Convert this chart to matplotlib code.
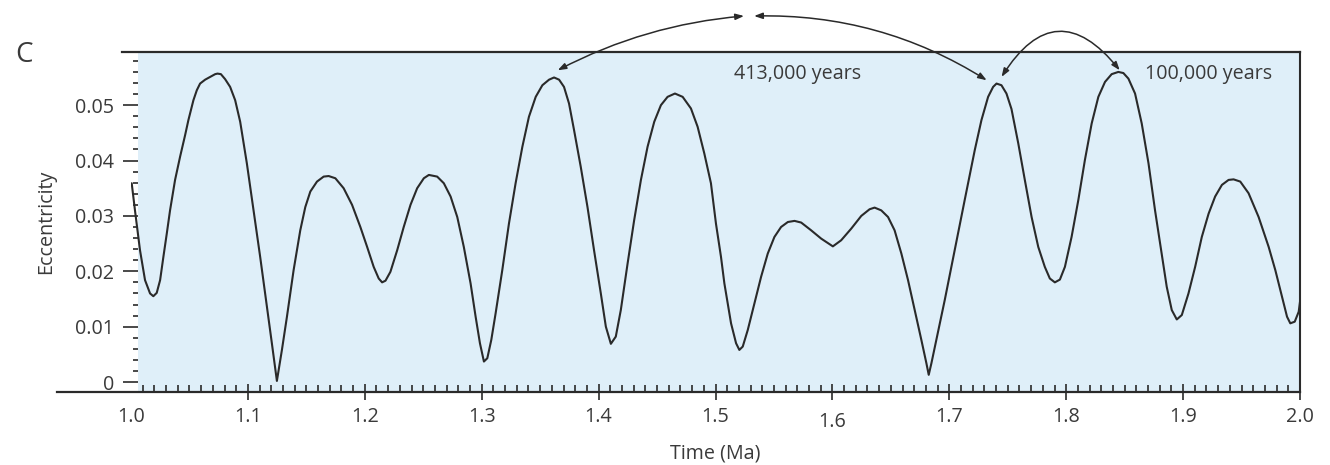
import matplotlib.pyplot as plt
from matplotlib.ticker import MultipleLocator
from matplotlib.transforms import ScaledTranslation

plt.rcParams['font.family'] = ['Open Sans', 'DejaVu Sans']

# orbital eccentricity, 1.0 - 2.0 Ma
time_ma = [
    1.0006, 1.0034, 1.0077, 1.0120, 1.0163, 1.0191, 1.0220, 1.0249, 1.0277, 1.0306,
    1.0334, 1.0377, 1.0420, 1.0463, 1.0491, 1.0534, 1.0563, 1.0591, 1.0634, 1.0677,
    1.0720, 1.0740, 1.0769, 1.0805, 1.0848, 1.0891, 1.0934, 1.0991, 1.1048, 1.1105,
    1.1163, 1.1205, 1.1248, 1.1291, 1.1334, 1.1391, 1.1448, 1.1491, 1.1534, 1.1591,
    1.1648, 1.1691, 1.1748, 1.1819, 1.1891, 1.1962, 1.2020, 1.2076, 1.2119, 1.2148,
    1.2177, 1.2219, 1.2277, 1.2333, 1.2391, 1.2448, 1.2505, 1.2548, 1.2619, 1.2676,
    1.2734, 1.2791, 1.2847, 1.2905, 1.2948, 1.2985, 1.3019, 1.3048, 1.3082, 1.3119,
    1.3176, 1.3233, 1.3290, 1.3348, 1.3404, 1.3462, 1.3519, 1.3576, 1.3619, 1.3662,
    1.3704, 1.3747, 1.3790, 1.3847, 1.3905, 1.3961, 1.4019, 1.4062, 1.4105, 1.4147,
    1.4190, 1.4248, 1.4304, 1.4362, 1.4419, 1.4476, 1.4533, 1.4590, 1.4653, 1.4719,
    1.4790, 1.4847, 1.4904, 1.4961, 1.5004, 1.5047, 1.5076, 1.5133, 1.5176, 1.5204,
    1.5233, 1.5276, 1.5333, 1.5390, 1.5447, 1.5504, 1.5561, 1.5619, 1.5676, 1.5733,
    1.5818, 1.5904, 1.6004, 1.6075, 1.6161, 1.6247, 1.6318, 1.6361, 1.6418, 1.6476,
    1.6532, 1.6590, 1.6647, 1.6704, 1.6761, 1.6804, 1.6824, 1.6847, 1.6889, 1.6961,
    1.7046, 1.7132, 1.7218, 1.7275, 1.7332, 1.7375, 1.7404, 1.7446, 1.7489, 1.7532,
    1.7590, 1.7646, 1.7704, 1.7761, 1.7817, 1.7860, 1.7903, 1.7946, 1.7989, 1.8046,
    1.8104, 1.8160, 1.8218, 1.8275, 1.8332, 1.8389, 1.8446, 1.8489, 1.8532, 1.8589,
    1.8646, 1.8704, 1.8760, 1.8817, 1.8860, 1.8903, 1.8946, 1.8989, 1.9046, 1.9103,
    1.9160, 1.9218, 1.9274, 1.9332, 1.9389, 1.9432, 1.9489, 1.9560, 1.9646, 1.9732,
    1.9789, 1.9846, 1.9889, 1.9917, 1.9955, 1.9989, 2.0000,
]
eccentricity = [
    0.0359, 0.0310, 0.0238, 0.0184, 0.0160, 0.0155, 0.0161, 0.0184, 0.0226, 0.0268,
    0.0310, 0.0365, 0.0407, 0.0446, 0.0473, 0.0509, 0.0527, 0.0539, 0.0546, 0.0551,
    0.0556, 0.0557, 0.0556, 0.0547, 0.0533, 0.0509, 0.0470, 0.0395, 0.0310, 0.0226,
    0.0136, 0.0070, 0.0002, 0.0058, 0.0118, 0.0202, 0.0274, 0.0316, 0.0344, 0.0362,
    0.0371, 0.0372, 0.0368, 0.0350, 0.0320, 0.0280, 0.0244, 0.0208, 0.0187, 0.0180,
    0.0183, 0.0199, 0.0238, 0.0280, 0.0320, 0.0350, 0.0368, 0.0374, 0.0371, 0.0359,
    0.0335, 0.0298, 0.0244, 0.0178, 0.0118, 0.0070, 0.0037, 0.0043, 0.0076, 0.0124,
    0.0202, 0.0286, 0.0359, 0.0425, 0.0479, 0.0515, 0.0536, 0.0546, 0.0550, 0.0546,
    0.0533, 0.0503, 0.0455, 0.0389, 0.0316, 0.0238, 0.0160, 0.0100, 0.0069, 0.0082,
    0.0130, 0.0214, 0.0292, 0.0365, 0.0425, 0.0470, 0.0500, 0.0515, 0.0521, 0.0515,
    0.0494, 0.0461, 0.0413, 0.0359, 0.0286, 0.0226, 0.0178, 0.0106, 0.0070, 0.0058,
    0.0064, 0.0094, 0.0142, 0.0190, 0.0232, 0.0262, 0.0280, 0.0289, 0.0291, 0.0288,
    0.0274, 0.0259, 0.0245, 0.0256, 0.0277, 0.0300, 0.0312, 0.0315, 0.0310, 0.0298,
    0.0274, 0.0232, 0.0184, 0.0130, 0.0076, 0.0034, 0.0013, 0.0034, 0.0076, 0.0148,
    0.0238, 0.0329, 0.0419, 0.0473, 0.0515, 0.0533, 0.0539, 0.0536, 0.0521, 0.0493,
    0.0431, 0.0365, 0.0298, 0.0244, 0.0208, 0.0187, 0.0180, 0.0185, 0.0208, 0.0262,
    0.0329, 0.0401, 0.0467, 0.0515, 0.0542, 0.0556, 0.0560, 0.0558, 0.0548, 0.0521,
    0.0467, 0.0395, 0.0310, 0.0232, 0.0172, 0.0130, 0.0113, 0.0121, 0.0160, 0.0208,
    0.0262, 0.0304, 0.0335, 0.0356, 0.0365, 0.0366, 0.0362, 0.0341, 0.0298, 0.0244,
    0.0202, 0.0154, 0.0118, 0.0106, 0.0109, 0.0127, 0.0145,
]

x_ticks = [1.0, 1.1, 1.2, 1.3, 1.4, 1.5, 1.6, 1.7, 1.8, 1.9, 2.0]
x_tick_labels = ['1.0', '1.1', '1.2', '1.3', '1.4', '1.5', '1.6', '1.7', '1.8', '1.9', '2.0']
y_ticks = [0, 0.01, 0.02, 0.03, 0.04, 0.05]
y_tick_labels = ['0', '0.01', '0.02', '0.03', '0.04', '0.05']

# cycle markers: (start, end) pairs in (Ma, eccentricity)
long_cycle_left = ((1.365, 0.0563), (1.5244, 0.0661))
long_cycle_right = ((1.533, 0.0661), (1.732, 0.0545))
short_cycle = ((1.7447, 0.0551), (1.8458, 0.0563))

ink = '#2a2a2a'
txt = '#3a3a3a'
panel = '#dfeff9'
fs = 14.2

fig = plt.figure(figsize=(13.3, 4.65), dpi=100)
ax = fig.add_axes([131 / 1330, 1 - 392 / 465, 1169 / 1330, 340 / 465])
ax.set_facecolor('white')
ax.set_xlim(1.0, 2.0)
ax.set_ylim(-0.0018, 0.0596)

ax.axvspan(1.006, 2.0, color=panel, zorder=0, lw=0)
ax.plot(time_ma, eccentricity, color=ink, lw=1.5, zorder=3,
        solid_joinstyle='round', solid_capstyle='round')

for side in ['left', 'top', 'bottom']:
    ax.spines[side].set_visible(False)
ax.spines['left'].set_position(('data', 1.006))
ax.spines['right'].set_color(ink)
ax.spines['right'].set_linewidth(1.5)

# frame lines that run past the panel edge
ax.plot([0.992, 2.0], [0.0596, 0.0596], color=ink, lw=1.6, clip_on=False, zorder=4)
ax.plot([0.9366, 2.0], [-0.0018, -0.0018], color=ink, lw=1.6, clip_on=False, zorder=4)

ax.set_xticks(x_ticks)
ax.set_xticklabels(x_tick_labels)
ax.xaxis.set_minor_locator(MultipleLocator(0.01))
ax.set_yticks(y_ticks)
ax.set_yticklabels(y_tick_labels)
ax.yaxis.set_minor_locator(MultipleLocator(0.002))

ax.tick_params(axis='x', which='major', direction='inout', length=11, width=1.2,
               color=ink, pad=5, labelsize=fs, labelcolor=txt)
ax.tick_params(axis='x', which='minor', direction='in', length=5, width=1.2, color=ink)
ax.tick_params(axis='y', which='major', direction='out', length=11, width=1.2,
               color=ink, pad=6, labelsize=fs, labelcolor=txt)
ax.tick_params(axis='y', which='minor', direction='out', length=3.6, width=1.2, color=ink)
ax.xaxis.get_major_ticks()[0].tick1line.set_visible(False)

lbl = ax.get_xticklabels()[6]
lbl.set_transform(lbl.get_transform() + ScaledTranslation(0, -4 / 72, fig.dpi_scale_trans))

ax.set_xlabel('Time (Ma)', fontsize=fs, color=txt, labelpad=8)
ax.set_ylabel('Eccentricity', fontsize=fs, color=txt, labelpad=14)

arrow_kw = dict(arrowstyle='<|-|>,head_length=0.5,head_width=0.18', color=ink,
                lw=1.1, shrinkA=0, shrinkB=0, mutation_scale=10)
ax.annotate('', xy=long_cycle_left[1], xytext=long_cycle_left[0], annotation_clip=False,
            arrowprops=dict(connectionstyle='arc3,rad=-0.1', **arrow_kw))
ax.annotate('', xy=long_cycle_right[1], xytext=long_cycle_right[0], annotation_clip=False,
            arrowprops=dict(connectionstyle='arc3,rad=-0.15', **arrow_kw))
ax.annotate('', xy=short_cycle[1], xytext=short_cycle[0], annotation_clip=False,
            arrowprops=dict(connectionstyle='arc3,rad=-0.7', **arrow_kw))

ax.text(1.516, 0.0556, '413,000 years', fontsize=fs, color=txt, va='center', ha='left')
ax.text(1.867, 0.0556, '100,000 years', fontsize=fs, color=txt, va='center', ha='left')

fig.text(15 / 1330, 1 - 55 / 465, 'C', fontsize=20, color=txt, va='center', ha='left')

fig.savefig('out.png', dpi=100)
